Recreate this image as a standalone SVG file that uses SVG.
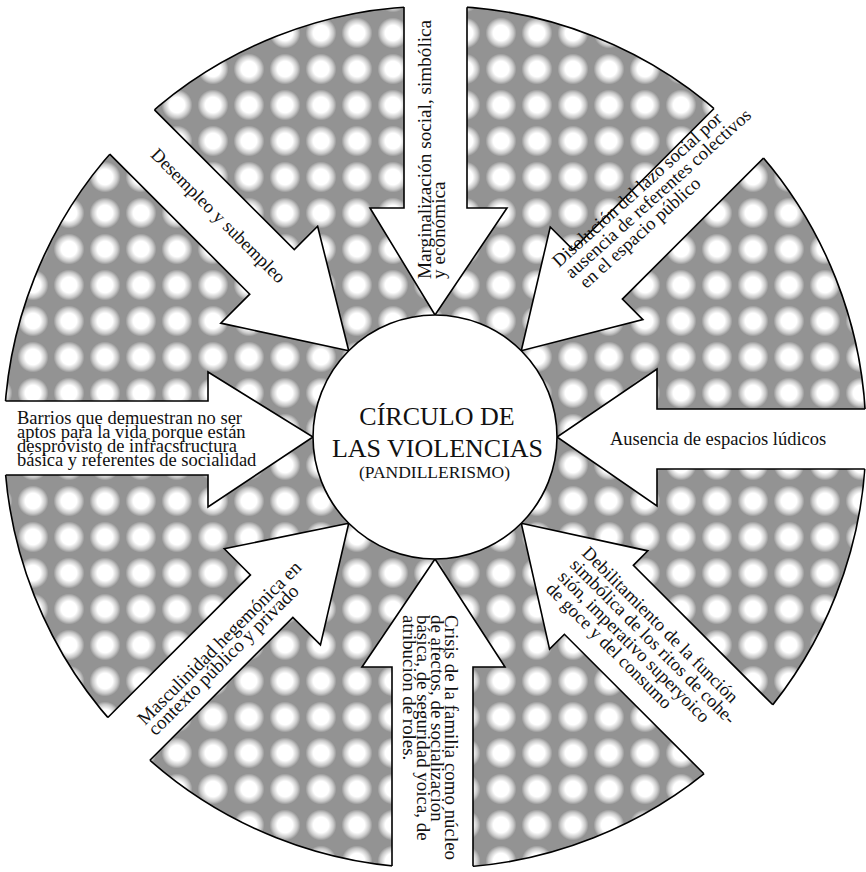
<svg xmlns="http://www.w3.org/2000/svg" width="866" height="872" viewBox="0 0 866 872">
<style>
.t{font-family:"Liberation Serif","Times New Roman",serif;font-size:18.5px;fill:#111}
.c{font-family:"Liberation Serif","Times New Roman",serif;fill:#111;text-anchor:middle}
.ol{fill:none;stroke:#000;stroke-width:1.6;stroke-linejoin:miter}
</style>
<defs>
<radialGradient id="dot">
<stop offset="0.5" stop-color="#fff"/>
<stop offset="0.8" stop-color="#fff" stop-opacity="0.5"/>
<stop offset="1" stop-color="#fff" stop-opacity="0"/>
</radialGradient>
<pattern id="ht" x="15" y="15" width="36" height="36" patternUnits="userSpaceOnUse">
<rect width="36" height="36" fill="#939393"/>
<circle cx="18" cy="18" r="15.5" fill="url(#dot)"/>
</pattern>
<mask id="holes" maskUnits="userSpaceOnUse" x="0" y="0" width="866" height="872">
<circle cx="435" cy="437" r="434" fill="#fff"/>
<circle cx="435" cy="437" r="122" fill="#000"/>
<g fill="#000">
<path transform="translate(435,437) rotate(0)" d="M-480,-36 L-227,-36 L-227,-65 L-122,0 L-227,70 L-227,38 L-480,38 Z"/>
<path transform="translate(435,437) rotate(45)" d="M-480,-33 L-232,-33 L-232,-66 L-122,0 L-232,71 L-232,30 L-480,30 Z"/>
<path transform="translate(435,437) rotate(90)" d="M-480,-32 L-229,-32 L-229,-72 L-122,0 L-229,65 L-229,31 L-480,31 Z"/>
<path transform="translate(435,437) rotate(135)" d="M-480,-35 L-230,-35 L-230,-64 L-122,0 L-230,67 L-230,35 L-480,35 Z"/>
<path transform="translate(435,437) rotate(180)" d="M-480,-32 L-222,-32 L-222,-69 L-122,0 L-222,68 L-222,28 L-480,28 Z"/>
<path transform="translate(435,437) rotate(225)" d="M-480,-48 L-231,-48 L-231,-69 L-122,0 L-231,70 L-231,49.5 L-480,49.5 Z"/>
<path transform="translate(435,437) rotate(270)" d="M-480,-43 L-230,-43 L-230,-73 L-122,0 L-230,70 L-230,38 L-480,38 Z"/>
<path transform="translate(435,437) rotate(315)" d="M-480,-33 L-228,-33 L-228,-70 L-122,0 L-228,66 L-228,27 L-480,27 Z"/>
</g>
</mask>
</defs>
<rect width="866" height="872" fill="#fff"/>
<g id="halftone-ring" mask="url(#holes)">
<circle cx="435" cy="437" r="431" fill="url(#ht)" stroke="#000" stroke-width="1.6"/>
</g>
<g id="connectors">
<g id="arrow-barrios">
<path class="ol" transform="translate(435,437) rotate(0)" d="M-429.5,-36 L-227,-36 L-227,-65 L-122,0 L-227,70 L-227,38 L-429.3,38"/>
<text class="t"><tspan x="17" y="424">Barrios que demuestran no ser</tspan><tspan x="17" y="438">aptos para la vida porque están</tspan><tspan x="17" y="452">desprovisto de infracstructura</tspan><tspan x="17" y="466">básica y referentes de socialidad</tspan></text>
</g>
<g id="arrow-desempleo">
<path class="ol" transform="translate(435,437) rotate(45)" d="M-429.7,-33 L-232,-33 L-232,-66 L-122,0 L-232,71 L-232,30 L-430,30"/>
<text class="t" text-anchor="middle" transform="translate(214,220) rotate(45)">Desempleo y subempleo</text>
</g>
<g id="arrow-marginalizacion">
<path class="ol" transform="translate(435,437) rotate(90)" d="M-429.8,-32 L-229,-32 L-229,-72 L-122,0 L-229,65 L-229,31 L-429.9,31"/>
<text class="t" style="font-size:19.2px" transform="translate(431,279) rotate(-90)"><tspan x="0" y="0">Marginalización social, simbólica</tspan><tspan x="0" y="14">y económica</tspan></text>
</g>
<g id="arrow-disolucion">
<path class="ol" transform="translate(435,437) rotate(135)" d="M-429.6,-35 L-230,-35 L-230,-64 L-122,0 L-230,67 L-230,35 L-429.6,35"/>
<text class="t" transform="translate(559,268) rotate(-42)"><tspan x="0" y="0">Disolución del lazo social por</tspan><tspan x="2" y="17">ausencia de referentes colectivos</tspan><tspan x="6" y="34">en el espacio público</tspan></text>
</g>
<g id="arrow-ausencia">
<path class="ol" transform="translate(435,437) rotate(180)" d="M-429.8,-32 L-222,-32 L-222,-69 L-122,0 L-222,68 L-222,28 L-430.1,28"/>
<text class="t" x="610" y="445">Ausencia de espacios lúdicos</text>
</g>
<g id="arrow-debilitamiento">
<path class="ol" transform="translate(435,437) rotate(225)" d="M-428.3,-48 L-231,-48 L-231,-69 L-122,0 L-231,70 L-231,49.5 L-428.2,49.5"/>
<text class="t" transform="translate(581,554) rotate(45)"><tspan x="0" y="0">Debilitamiento de la función</tspan><tspan x="0" y="17">simbólica de los ritos de cohe-</tspan><tspan x="0" y="34">sión, imperativo superyoico</tspan><tspan x="0" y="51">de goce y del consumo</tspan></text>
</g>
<g id="arrow-crisis">
<path class="ol" transform="translate(435,437) rotate(270)" d="M-428.9,-43 L-230,-43 L-230,-73 L-122,0 L-230,70 L-230,38 L-429.3,38"/>
<text class="t" style="font-size:18.9px" transform="translate(445,615) rotate(90)"><tspan x="0" y="0">Crisis de la familia como núcleo</tspan><tspan x="0" y="14">de afectos, de socialización</tspan><tspan x="0" y="28">básica, de seguridad yoica, de</tspan><tspan x="0" y="42">atribución de roles.</tspan></text>
</g>
<g id="arrow-masculinidad">
<path class="ol" transform="translate(435,437) rotate(315)" d="M-429.7,-33 L-228,-33 L-228,-70 L-122,0 L-228,66 L-228,27 L-430.2,27"/>
<text class="t" style="font-size:19px" transform="translate(145,726) rotate(-45)"><tspan x="0" y="0">Masculinidad hegemónica en</tspan><tspan x="0" y="15">contexto público y privado</tspan></text>
</g>
</g>
<g id="center">
<circle cx="435" cy="437" r="122" fill="#fff" stroke="#000" stroke-width="1.6"/>
<text class="c" font-size="26" x="437" y="425">CÍRCULO DE</text>
<text class="c" font-size="26" x="437.5" y="457">LAS VIOLENCIAS</text>
<text class="c" font-size="17.5" x="434.5" y="478">(PANDILLERISMO)</text>
</g>
</svg>
